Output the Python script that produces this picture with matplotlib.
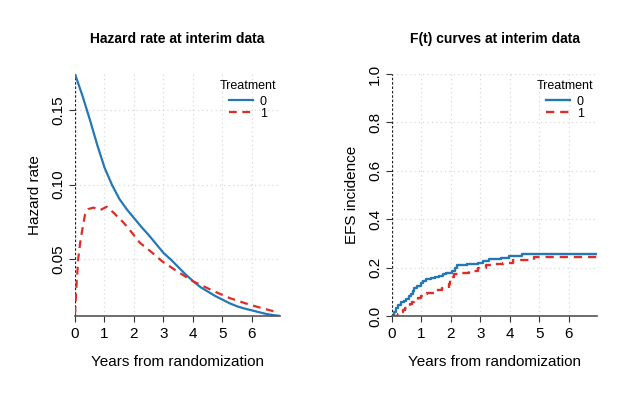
import matplotlib
matplotlib.use("Agg")
import matplotlib.pyplot as plt

plt.rcParams['font.family'] = ['Liberation Sans', 'DejaVu Sans']

# hazard rate curves
haz_t0 = [0.0, 0.25, 0.5, 0.75, 1.0, 1.25, 1.5, 1.75, 2.0, 2.25, 2.5, 2.75, 3.0,
          3.25, 3.5, 3.75, 4.0, 4.25, 4.5, 4.75, 5.0, 5.25, 5.5, 5.75, 6.0,
          6.25, 6.5, 6.75, 6.9]
haz_v0 = [0.1745, 0.160, 0.144, 0.127, 0.1115, 0.100, 0.0905, 0.0835, 0.0775,
          0.0715, 0.066, 0.060, 0.054, 0.0495, 0.0445, 0.0395, 0.035, 0.031,
          0.028, 0.025, 0.0225, 0.020, 0.018, 0.0165, 0.0153, 0.014, 0.0128,
          0.012, 0.0117]
haz_t1 = [0.0, 0.05, 0.11, 0.17, 0.23, 0.34, 0.45, 0.625, 0.85, 1.08, 1.31,
          1.65, 1.93, 2.2, 2.56, 2.95, 3.46, 4.0, 4.72, 5.24, 5.75, 6.26,
          6.77, 6.9]
haz_v1 = [0.0125, 0.032, 0.05, 0.060, 0.0676, 0.0799, 0.0835, 0.0845, 0.0828,
          0.0851, 0.081, 0.0743, 0.0676, 0.0608, 0.0551, 0.0484, 0.0416,
          0.0349, 0.0281, 0.0236, 0.0202, 0.0172, 0.0145, 0.0138]

# cumulative incidence steps
cif_t0 = [0, 0.08, 0.15, 0.22, 0.31, 0.40, 0.48, 0.56, 0.65, 0.72, 0.76, 0.85,
          0.98, 1.06, 1.15, 1.31, 1.45, 1.6, 1.72, 1.82, 2.03, 2.12, 2.2, 2.53,
          2.92, 3.09, 3.3, 3.7, 3.97, 4.42, 6.95]
cif_v0 = [0, 0.018, 0.035, 0.045, 0.058, 0.063, 0.07, 0.082, 0.091, 0.105,
          0.116, 0.125, 0.135, 0.145, 0.153, 0.157, 0.162, 0.167, 0.172, 0.177,
          0.188, 0.198, 0.209, 0.213, 0.219, 0.228, 0.234, 0.241, 0.248, 0.255,
          0.255]
cif_t1 = [0, 0.2, 0.3, 0.37, 0.45, 0.6, 0.68, 0.76, 0.87, 0.98, 1.1, 1.2, 1.43,
          1.7, 1.92, 1.98, 2.05, 2.1, 2.33, 2.6, 2.93, 3.2, 3.5, 3.75, 4.1,
          4.8, 6.95]
cif_v1 = [0, 0.01, 0.018, 0.025, 0.035, 0.051, 0.058, 0.065, 0.074, 0.083,
          0.09, 0.096, 0.106, 0.114, 0.131, 0.148, 0.16, 0.173, 0.179, 0.188,
          0.2, 0.211, 0.215, 0.22, 0.231, 0.244, 0.244]

x_ticks = [0, 1, 2, 3, 4, 5, 6]
haz_yticks = [0.05, 0.10, 0.15]
cif_yticks = [0.0, 0.2, 0.4, 0.6, 0.8, 1.0]

blue = '#2378b5'
red = '#de2d26'
grid_col = '#d9d9d9'

fig = plt.figure(figsize=(6.34, 4.09), dpi=100)
ax1 = fig.add_axes([75/634, 93/409, 205/634, 242/409])
ax2 = fig.add_axes([392/634, 93/409, 205/634, 242/409])

def style(ax, yticks, fmt):
    ax.set_xlim(0, 6.95)
    ax.set_xticks(x_ticks)
    ax.set_yticks(yticks)
    ax.set_yticklabels([fmt % v for v in yticks], rotation=90, va='center')
    for s in ['top', 'right', 'left']:
        ax.spines[s].set_visible(False)
    ax.spines['bottom'].set_color('#555555')
    ax.spines['bottom'].set_linewidth(1.2)
    ax.tick_params(length=4, width=0.8, pad=3, labelsize=11, color='#333333')
    ax.tick_params(axis='x', pad=4)
    for v in x_ticks[1:]:
        ax.axvline(v, color=grid_col, ls=(0, (1, 2.5)), lw=0.9, zorder=0)
    for v in yticks:
        ax.axhline(v, color=grid_col, ls=(0, (1, 2.5)), lw=0.9, zorder=0)
    ax.axvline(0, color='#222222', ls=(0, (2, 1.5)), lw=0.9, zorder=1)
    ax.set_xlabel('Years from randomization', fontsize=11, labelpad=10)
    leg = ax.legend(title='Treatment', loc='upper right', frameon=False,
                    fontsize=9, title_fontsize=9, handlelength=1.9,
                    borderaxespad=0.0, labelspacing=0.0, borderpad=0.45,
                    handletextpad=0.55, bbox_to_anchor=(1.01, 1.0))
    leg._legend_box.align = 'center'
    leg._legend_box.sep = 3

# hazard panel
ax1.plot(haz_t0, haz_v0, color=blue, lw=1.6, label='0')
ax1.plot(haz_t1, haz_v1, color=red, lw=1.6, dashes=(3.5, 2.5), label='1')
ax1.set_ylim(0.0115, 0.1745)
style(ax1, haz_yticks, '%.2f')
ax1.set_ylabel('Hazard rate', fontsize=11, labelpad=7)
ax1.set_title('Hazard rate at interim data', fontsize=10, fontweight='bold', pad=22)

# cumulative incidence panel
ax2.step(cif_t0, cif_v0, where='post', color=blue, lw=1.7, label='0')
ax2.step(cif_t1, cif_v1, where='post', color=red, lw=1.7, dashes=(3.5, 2.5), label='1')
ax2.set_ylim(0, 1)
ax2.axhline(0, color='#222222', ls=(0, (2, 1.5)), lw=0.9, zorder=1)
style(ax2, cif_yticks, '%.1f')
ax2.set_ylabel('EFS incidence', fontsize=11, labelpad=7)
ax2.set_title('F(t) curves at interim data', fontsize=10, fontweight='bold', pad=22)

fig.savefig('out.png', dpi=100)
